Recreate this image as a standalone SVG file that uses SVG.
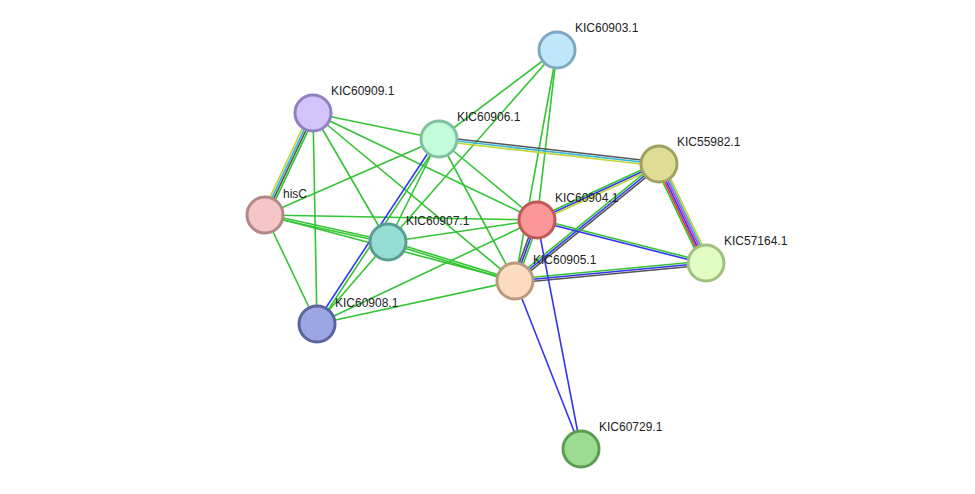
<svg xmlns="http://www.w3.org/2000/svg" width="975" height="494" viewBox="0 0 975 494">
<style>
line{stroke-width:1.6;fill:none}
.g{stroke:#33c433}.b{stroke:#3535f0}.k{stroke:#555}.y{stroke:#c2d633}.c{stroke:#33b5dd}.r{stroke:#f03535}.m{stroke:#d633d6}
circle{stroke-width:3}
text{font-family:"Liberation Sans",Arial,sans-serif;font-size:12px;fill:#222}
</style>
<rect width="975" height="494" fill="#fff"/>
<g id="edges">
<line class="g" x1="313" y1="113" x2="439" y2="139"/>
<line class="g" x1="313" y1="113" x2="537" y2="220"/>
<line class="g" x1="313" y1="113" x2="388" y2="242"/>
<line class="g" x1="313" y1="113" x2="515" y2="281"/>
<line class="g" x1="313" y1="113" x2="317" y2="324"/>
<line class="g" x1="265" y1="215" x2="439" y2="139"/>
<line class="g" x1="265" y1="215" x2="537" y2="220"/>
<line class="g" x1="264.8" y1="216" x2="387.8" y2="243"/>
<line class="g" x1="265.2" y1="214" x2="388.2" y2="241"/>
<line class="g" x1="265" y1="215" x2="515" y2="281"/>
<line class="g" x1="265" y1="215" x2="317" y2="324"/>
<line class="g" x1="388" y1="242" x2="439" y2="139"/>
<line class="g" x1="439" y1="139" x2="515" y2="281"/>
<line class="g" x1="439" y1="139" x2="537" y2="220"/>
<line class="g" x1="557" y1="50" x2="388" y2="242"/>
<line class="g" x1="557" y1="50" x2="439" y2="139"/>
<line class="g" x1="557" y1="50" x2="537" y2="220"/>
<line class="g" x1="557" y1="50" x2="515" y2="281"/>
<line class="g" x1="388" y1="242" x2="537" y2="220"/>
<line class="g" x1="387.7" y1="243" x2="514.7" y2="282"/>
<line class="g" x1="388.3" y1="241" x2="515.3" y2="280"/>
<line class="g" x1="317" y1="324" x2="537" y2="220"/>
<line class="g" x1="317" y1="324" x2="515" y2="281"/>
<line class="g" x1="317" y1="324" x2="388" y2="242"/>
<line class="b" x1="315.7" y1="323.2" x2="437.7" y2="138.2"/>
<line class="g" x1="318.3" y1="324.8" x2="440.3" y2="139.8"/>
<line class="k" x1="439.2" y1="137" x2="659.2" y2="162"/>
<line class="c" x1="439" y1="139" x2="659" y2="164"/>
<line class="y" x1="438.8" y1="141" x2="658.8" y2="166"/>
<line class="g" x1="536.2" y1="218.2" x2="658.2" y2="162.2"/>
<line class="b" x1="537" y1="220" x2="659" y2="164"/>
<line class="y" x1="537.8" y1="221.8" x2="659.8" y2="165.8"/>
<line class="g" x1="513.7" y1="279.4" x2="657.7" y2="162.4"/>
<line class="b" x1="515" y1="281" x2="659" y2="164"/>
<line class="k" x1="516.3" y1="282.6" x2="660.3" y2="165.6"/>
<line class="g" x1="514.8" y1="279" x2="705.8" y2="261"/>
<line class="b" x1="515" y1="281" x2="706" y2="263"/>
<line class="k" x1="515.2" y1="283" x2="706.2" y2="265"/>
<line class="g" x1="537.2" y1="219" x2="706.2" y2="262"/>
<line class="b" x1="536.8" y1="221" x2="705.8" y2="264"/>
<line class="k" x1="535.1" y1="219.3" x2="513.1" y2="280.3"/>
<line class="b" x1="537" y1="220" x2="515" y2="281"/>
<line class="g" x1="538.9" y1="220.7" x2="516.9" y2="281.7"/>
<line class="b" x1="537" y1="220" x2="581" y2="449"/>
<line class="b" x1="515" y1="281" x2="581" y2="449"/>
<line class="g" x1="655.2" y1="165.8" x2="702.2" y2="264.8"/>
<line class="r" x1="656.7" y1="165.1" x2="703.7" y2="264.1"/>
<line class="b" x1="658.2" y1="164.4" x2="705.2" y2="263.4"/>
<line class="m" x1="659.8" y1="163.6" x2="706.8" y2="262.6"/>
<line class="c" x1="661.3" y1="162.9" x2="708.3" y2="261.9"/>
<line class="y" x1="662.8" y1="162.2" x2="709.8" y2="261.2"/>
<line class="y" x1="262.3" y1="213.7" x2="310.3" y2="111.7"/>
<line class="c" x1="264.1" y1="214.6" x2="312.1" y2="112.6"/>
<line class="k" x1="265.9" y1="215.4" x2="313.9" y2="113.4"/>
<line class="g" x1="267.7" y1="216.3" x2="315.7" y2="114.3"/>
</g>
<g id="n60903"><circle cx="557" cy="50" r="18" fill="#c0e6fb" stroke="#7ea8c0"/><text x="575" y="32">KIC60903.1</text></g>
<g id="n60909"><circle cx="313" cy="113" r="18" fill="#d4c3fb" stroke="#9080c0"/><text x="331" y="95">KIC60909.1</text></g>
<g id="n60906"><circle cx="439" cy="139" r="18" fill="#c2fcd8" stroke="#80c0a0"/><text x="457" y="121">KIC60906.1</text></g>
<g id="n55982"><circle cx="659" cy="164" r="18" fill="#dedc95" stroke="#a0a060"/><text x="677" y="146">KIC55982.1</text></g>
<g id="nhisC"><circle cx="265" cy="215" r="18" fill="#f6c6c6" stroke="#b08888"/><text x="283" y="198">hisC</text></g>
<g id="n60904"><circle cx="537" cy="220" r="18" fill="#fb9696" stroke="#c05858"/><text x="555" y="202">KIC60904.1</text></g>
<g id="n60907"><circle cx="388" cy="242" r="18" fill="#95ddd3" stroke="#5a9c94"/><text x="406" y="225">KIC60907.1</text></g>
<g id="n57164"><circle cx="706" cy="263" r="18" fill="#e0fcc1" stroke="#a0c080"/><text x="724" y="245">KIC57164.1</text></g>
<g id="n60905"><circle cx="515" cy="281" r="18" fill="#fcdcc0" stroke="#b89a80"/><text x="533" y="264">KIC60905.1</text></g>
<g id="n60908"><circle cx="317" cy="324" r="18" fill="#9ba6e2" stroke="#5a64a0"/><text x="335" y="307">KIC60908.1</text></g>
<g id="n60729"><circle cx="581" cy="449" r="18" fill="#9bdc90" stroke="#5c9c54"/><text x="599" y="431">KIC60729.1</text></g>
</svg>
